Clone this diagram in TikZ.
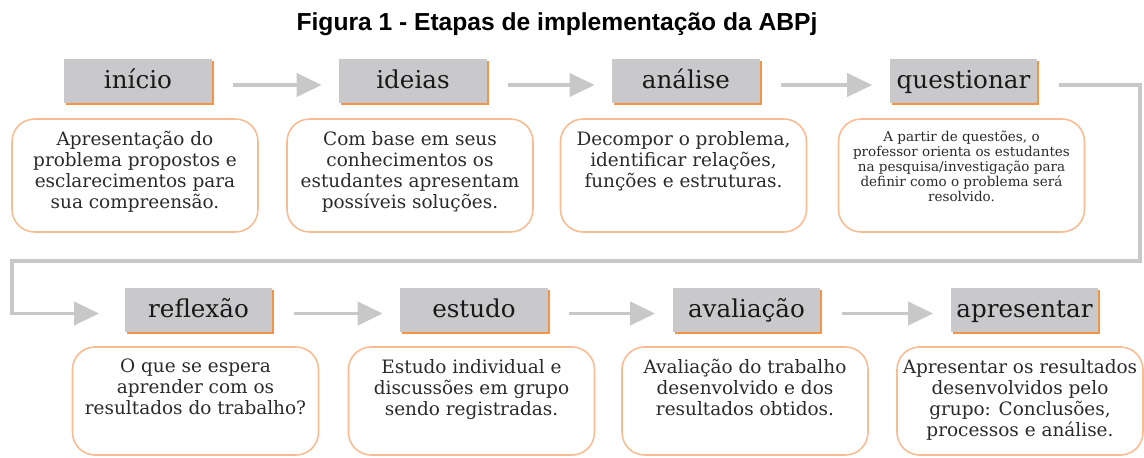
\documentclass[tikz,border=0pt]{standalone}
\usepackage{fontspec}
\setmainfont{DejaVu Serif}
\newfontfamily\titlefont{Liberation Sans}
\usetikzlibrary{arrows.meta,shadows}
\definecolor{hdrgray}{HTML}{C9C9CB}
\definecolor{shadeorange}{HTML}{F39447}
\definecolor{lineorange}{HTML}{F9BC92}
\definecolor{flowgray}{HTML}{C8C8C8}
\definecolor{ink}{HTML}{2A2A2A}

\begin{document}
\begin{tikzpicture}[x=0.02cm,y=-0.02cm,
  stage/.style={fill=hdrgray,minimum width=2.96cm,minimum height=0.88cm,
    inner sep=0pt,text height=12pt,text depth=3pt,text=ink!60!black,
    font=\fontsize{14}{16}\selectfont,
    drop shadow={shadow xshift=0.4mm,shadow yshift=-0.4mm,
      fill=shadeorange,opacity=1}},
  descbox/.style={draw=lineorange,line width=0.9pt,rounded corners=0.45cm,
    inner xsep=0.06cm,inner ysep=0.24cm,text=ink,
    font=\fontsize{10.5}{12}\selectfont},
  flow/.style={draw=flowgray,line width=2.2pt,
    -{Triangle[width=0.46cm,length=0.5cm]},shorten <=0.42cm,shorten >=0.34cm}]
\useasboundingbox (0,0) rectangle (1144,457);
\node[font=\titlefont\bfseries\fontsize{14}{16}\selectfont] (title) at (557,24)
  {Figura 1 - Etapas de implementação da ABPj};
% first row
\node[stage] (h1) at (138,81) {início};
\node[stage] (h2) at (413,81) {ideias};
\node[stage] (h3) at (686,81) {análise};
\node[stage] (h4) at (963.5,81) {questionar};
\node[descbox] (d1) at (135,175.5) {\parbox[c][1.78cm][t]{4.8cm}{\centering
  Apresentação do\\ problema propostos e\\ esclarecimentos para\\ sua compreensão.}};
\node[descbox] (d2) at (410,175.5) {\parbox[c][1.78cm][t]{4.8cm}{\centering
  Com base em seus\\ conhecimentos os\\ estudantes apresentam\\ possíveis soluções.}};
\node[descbox] (d3) at (683.5,175.5) {\parbox[c][1.78cm][t]{4.8cm}{\centering
  Decompor o problema,\\ identificar relações,\\ funções e estruturas.}};
\node[descbox,font=\fontsize{7.7}{8.6}\selectfont] (d4) at (961.5,175.5)
  {\parbox[c][1.78cm][t]{4.8cm}{\centering
  A partir de questões, o\\ professor orienta os estudantes\\ na pesquisa/investigação para\\
  definir como o problema será\\ resolvido.}};
% second row
\node[stage] (h5) at (198.5,309.5) {reflexão};
\node[stage] (h6) at (474,309.5) {estudo};
\node[stage] (h7) at (746.5,309.5) {avaliação};
\node[stage] (h8) at (1024.5,309.5) {apresentar};
\node[descbox] (d5) at (195.5,401) {\parbox[c][1.68cm][t]{4.8cm}{\centering
  O que se espera\\ aprender com os\\ resultados do trabalho?}};
\node[descbox] (d6) at (471.5,401) {\parbox[c][1.68cm][t]{4.8cm}{\centering
  Estudo individual e\\ discussões em grupo\\ sendo registradas.}};
\node[descbox] (d7) at (745,401) {\parbox[c][1.68cm][t]{4.8cm}{\centering
  Avaliação do trabalho\\ desenvolvido e dos\\ resultados obtidos.}};
\node[descbox] (d8) at (1020,401) {\parbox[c][1.68cm][t]{4.8cm}{\centering
  Apresentar os resultados\\ desenvolvidos pelo\\ grupo: Conclusões,\\ processos e análise.}};
% arrows
\foreach \a/\b in {h1/h2,h2/h3,h3/h4,h5/h6,h6/h7,h7/h8}
  \draw[flow] ([yshift=-0.08cm]\a.east) -- ([yshift=-0.08cm]\b.west);
\coordinate (turnR) at (1140,261);
\coordinate (turnL) at (12,261);
\draw[flow,shorten >=0.5cm] ([yshift=-0.08cm]h4.east) -| (turnR) -- (turnL)
  |- ([yshift=-0.08cm]h5.west);
\end{tikzpicture}
\end{document}
